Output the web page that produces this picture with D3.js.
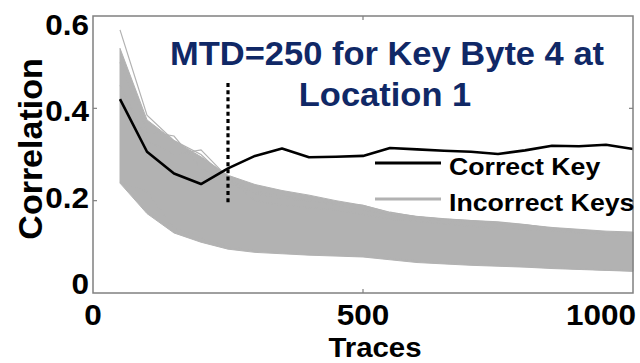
<!DOCTYPE html>
<html>
<head>
<meta charset="utf-8">
<script src="https://cdn.jsdelivr.net/npm/d3@7"></script>
<style>
  body { margin: 0; background: #fff; }
  text { font-family: "Liberation Sans", Arial, sans-serif; font-weight: bold; }
</style>
</head>
<body>
<div id="vis"></div>
<script>
const WIDTH = 640;
const HEIGHT = 363;
const MARGINS = {left: 93, right: 6, top: 16, bottom: 70};

// data
const traces = [50, 100, 150, 200, 250, 300, 350, 400, 450, 500,
                550, 600, 650, 700, 750, 800, 850, 900, 950, 1000];
const correctKey = [0.42, 0.306, 0.259, 0.236, 0.27, 0.297, 0.313, 0.294, 0.295, 0.297,
                    0.314, 0.311, 0.308, 0.306, 0.301, 0.309, 0.319, 0.318, 0.321, 0.312];
// envelope of the incorrect key band
const wrongUpper = [0.53, 0.375, 0.33, 0.295, 0.255, 0.235, 0.222, 0.212, 0.2, 0.19,
                    0.174, 0.166, 0.161, 0.157, 0.153, 0.148, 0.142, 0.138, 0.134, 0.132];
const wrongLower = [0.238, 0.172, 0.13, 0.11, 0.095, 0.088, 0.085, 0.082, 0.08, 0.078,
                    0.072, 0.066, 0.063, 0.06, 0.058, 0.056, 0.053, 0.051, 0.049, 0.047];
// a few single incorrect key curves that stand out of the band
const wrongLines = [
  [0.57, 0.385, 0.33, 0.3, 0.245, 0.22, 0.21, 0.2, 0.195, 0.19, 0.175, 0.165, 0.16, 0.157, 0.154, 0.148, 0.14, 0.13, 0.128, 0.128],
  [0.5, 0.35, 0.34, 0.27, 0.24, 0.215, 0.205, 0.2, 0.19, 0.18, 0.17, 0.16, 0.158, 0.155, 0.15, 0.147, 0.14, 0.136, 0.132, 0.13],
  [0.45, 0.33, 0.3, 0.31, 0.25, 0.2, 0.19, 0.185, 0.18, 0.17, 0.16, 0.155, 0.15, 0.145, 0.14, 0.138, 0.135, 0.13, 0.126, 0.124],
  [0.24, 0.22, 0.14, 0.12, 0.1, 0.092, 0.088, 0.085, 0.082, 0.08, 0.075, 0.07, 0.066, 0.063, 0.06, 0.058, 0.055, 0.052, 0.05, 0.048]
];
const MTD = 250;
const mtdSpan = [0.19, 0.455];

const xTicks = [0, 500, 1000];
const yTicks = [0, 0.2, 0.4, 0.6];
const yTickLabels = ["0", "0.2", "0.4", "0.6"];
const titleLines = ["MTD=250 for Key Byte 4 at", "Location 1"];
const legendNames = ["Correct Key", "Incorrect Keys"];

const GRAY = "#b2b2b2";
const NAVY = "#102866";
const FRAME = "#808080";

const svg = d3.select("#vis")
  .append("svg")
    .attr("width", WIDTH)
    .attr("height", HEIGHT);

const X_SCALE = d3.scaleLinear()
  .domain([0, 1000])
  .range([MARGINS.left, WIDTH - MARGINS.right - 1]);
const Y_SCALE = d3.scaleLinear()
  .domain([0, 0.6])
  .range([HEIGHT - MARGINS.bottom, MARGINS.top]);
// the y labels sit a bit off their ticks in the original
const Y_LABEL = d3.scaleLinear()
  .domain([0, 0.6])
  .range([294, 35]);

function addText(g, x, y, s, size, anchor, stretch, color) {
  return g.append("text")
    .attr("transform", "translate(" + x + "," + y + ") scale(" + stretch + ",1)")
    .attr("text-anchor", anchor)
    .attr("font-size", size + "px")
    .attr("fill", color || "#000")
    .text(s);
}

// incorrect keys band
const band = d3.area()
  .x((d, i) => X_SCALE(traces[i]))
  .y0((d, i) => Y_SCALE(wrongLower[i]))
  .y1((d) => Y_SCALE(d));
svg.append("path")
  .datum(wrongUpper)
  .attr("d", band)
  .attr("fill", GRAY)
  .attr("stroke", GRAY)
  .attr("stroke-width", 1);

const line = d3.line()
  .x((d, i) => X_SCALE(traces[i]))
  .y((d) => Y_SCALE(d));

svg.selectAll(".wrong")
  .data(wrongLines)
  .enter()
  .append("path")
    .attr("class", "wrong")
    .attr("d", line)
    .attr("fill", "none")
    .attr("stroke", GRAY)
    .attr("stroke-width", 1.2);

// correct key
svg.append("path")
  .datum(correctKey)
  .attr("d", line)
  .attr("fill", "none")
  .attr("stroke", "#000")
  .attr("stroke-width", 2.6)
  .attr("stroke-linejoin", "round");

// MTD marker
svg.append("line")
  .attr("x1", X_SCALE(MTD)).attr("x2", X_SCALE(MTD))
  .attr("y1", Y_SCALE(mtdSpan[1])).attr("y2", Y_SCALE(mtdSpan[0]))
  .attr("stroke", "#000")
  .attr("stroke-width", 3.2)
  .attr("stroke-dasharray", "4,3.2");

// frame and ticks
const x0 = X_SCALE(0), x1 = X_SCALE(1000), y0 = Y_SCALE(0), y1 = Y_SCALE(0.6);
svg.append("rect")
  .attr("x", x0).attr("y", y1)
  .attr("width", x1 - x0).attr("height", y0 - y1)
  .attr("fill", "none")
  .attr("stroke", FRAME)
  .attr("stroke-width", 1.5);

xTicks.slice(1, -1).forEach((v) => {
  [[y0, y0 - 4], [y1, y1 + 4]].forEach((p) => {
    svg.append("line")
      .attr("x1", X_SCALE(v)).attr("x2", X_SCALE(v))
      .attr("y1", p[0]).attr("y2", p[1])
      .attr("stroke", FRAME).attr("stroke-width", 1.2);
  });
});
yTicks.slice(1, -1).forEach((v) => {
  [[x0, x0 + 4], [x1, x1 - 4]].forEach((p) => {
    svg.append("line")
      .attr("x1", p[0]).attr("x2", p[1])
      .attr("y1", Y_SCALE(v)).attr("y2", Y_SCALE(v))
      .attr("stroke", FRAME).attr("stroke-width", 1.2);
  });
});

// tick labels
xTicks.forEach((v, i) => {
  const last = i === xTicks.length - 1;
  addText(svg, X_SCALE(v) + (last ? 3 : 0), 325, String(v), 30, last ? "end" : "middle", 1.05);
});
yTicks.forEach((v, i) => {
  addText(svg, 89, Y_LABEL(v), yTickLabels[i], 30, "end", 1.05);
});

// axis titles
addText(svg, 375, 357, "Traces", 28, "middle", 1.05);
svg.append("text")
  .attr("transform", "translate(42,149) rotate(-90)")
  .attr("text-anchor", "middle")
  .attr("font-size", "34px")
  .text("Correlation");

// legend
const legend = svg.append("g");
[["#000", 163, 2.8], [GRAY, 199, 3.2]].forEach((s, i) => {
  legend.append("line")
    .attr("x1", 375).attr("x2", 441)
    .attr("y1", s[1]).attr("y2", s[1])
    .attr("stroke", s[0]).attr("stroke-width", s[2]);
  addText(legend, 449, s[1] + 12, legendNames[i], 24.5, "start", 1.09);
});

// annotation
addText(svg, 387, 65, titleLines[0], 33, "middle", 1.045, NAVY);
addText(svg, 385, 106, titleLines[1], 33, "middle", 1.045, NAVY);
</script>
</body>
</html>
